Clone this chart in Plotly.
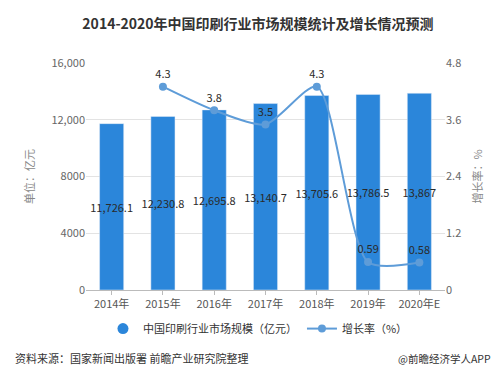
import plotly.graph_objects as go

years = ["2014年", "2015年", "2016年", "2017年", "2018年", "2019年", "2020年E"]
market_size = [11726.1, 12230.8, 12695.8, 13140.7, 13705.6, 13786.5, 13867]
growth_years = ["2015年", "2016年", "2017年", "2018年", "2019年", "2020年E"]
growth_rate = [4.3, 3.8, 3.5, 4.3, 0.59, 0.58]
left_ticks = [0, 4000, 8000, 12000, 16000]
left_ticktext = ["0", "4000", "8000", "12,000", "16,000"]
right_ticks = [0, 1.2, 2.4, 3.6, 4.8]
right_ticktext = ["0", "1.2", "2.4", "3.6", "4.8"]

FONT = "Noto Sans CJK SC"
BAR = "#2B86DA"
LINE = "#5E9CD8"

fig = go.Figure()
fig.add_trace(go.Bar(
    x=years, y=market_size, name="中国印刷行业市场规模（亿元）",
    marker=dict(color=BAR), width=0.47, showlegend=False,
    text=[f"{v:,}" for v in market_size], textposition="inside", textangle=0,
    insidetextanchor="middle", constraintext="none",
    textfont=dict(color="#2a2a2a", size=11, family=FONT),
    yaxis="y", legendgroup="bar",
))
# legend entry with a circle symbol for the bar series
fig.add_trace(go.Scatter(
    x=[None], y=[None], mode="markers", name="中国印刷行业市场规模（亿元）",
    marker=dict(color=BAR, size=11, symbol="circle"), legendgroup="bar",
))
fig.add_trace(go.Scatter(
    x=growth_years, y=growth_rate, name="增长率（%）",
    mode="lines+markers+text",
    line=dict(color=LINE, width=2, shape="spline", smoothing=0.7),
    marker=dict(color=LINE, size=8),
    text=[str(v) for v in growth_rate], textposition="top center",
    textfont=dict(color="#2a2a2a", size=11, family=FONT),
    yaxis="y2",
))

fig.update_layout(
    width=500, height=367,
    margin=dict(l=78, r=63, t=55, b=85),
    paper_bgcolor="white", plot_bgcolor="white",
    font=dict(family=FONT, color="#666666", size=11),
    title=dict(text="<b>2014-2020年中国印刷行业市场规模统计及增长情况预测</b>",
               x=0.5, xanchor="center", y=1 - 16 / 367, yanchor="middle",
               font=dict(size=14, color="#333333", family=FONT)),
    xaxis=dict(showline=True, linecolor="#bbbbbb", ticks="outside", ticklen=4,
               tickcolor="#bbbbbb", tickfont=dict(size=11, color="#555555")),
    yaxis=dict(range=[0, 16000], tickvals=left_ticks, ticktext=left_ticktext,
               showgrid=True, gridcolor="#e3e3e3", zeroline=False,
               tickfont=dict(size=11, color="#666666"),
               title=dict(text="单位：亿元", font=dict(size=11, color="#888888"), standoff=14)),
    yaxis2=dict(range=[0, 4.8], tickvals=right_ticks, ticktext=right_ticktext,
                overlaying="y", side="right", showgrid=False, zeroline=False,
                tickfont=dict(size=11, color="#666666"),
                title=dict(text="增长率：%", font=dict(size=11, color="#888888"), standoff=14)),
    legend=dict(orientation="h", x=0.479, xanchor="center", y=-0.17, yanchor="middle",
                font=dict(size=11, color="#333333"), bgcolor="rgba(0,0,0,0)",
                itemwidth=30),
    showlegend=True,
)

fig.add_annotation(text="资料来源：国家新闻出版署 前瞻产业研究院整理", xref="paper", yref="paper",
                   x=(5 - 78) / 359, y=(282 - 350) / 227, xanchor="left", yanchor="middle",
                   showarrow=False, font=dict(size=11, color="#333333", family=FONT))
fig.add_annotation(text="@前瞻经济学人APP", xref="paper", yref="paper",
                   x=(388 - 78) / 359, y=(282 - 350) / 227, xanchor="left", yanchor="middle",
                   showarrow=False, font=dict(size=10.5, color="#333333", family=FONT))

fig.write_html("out.html")
